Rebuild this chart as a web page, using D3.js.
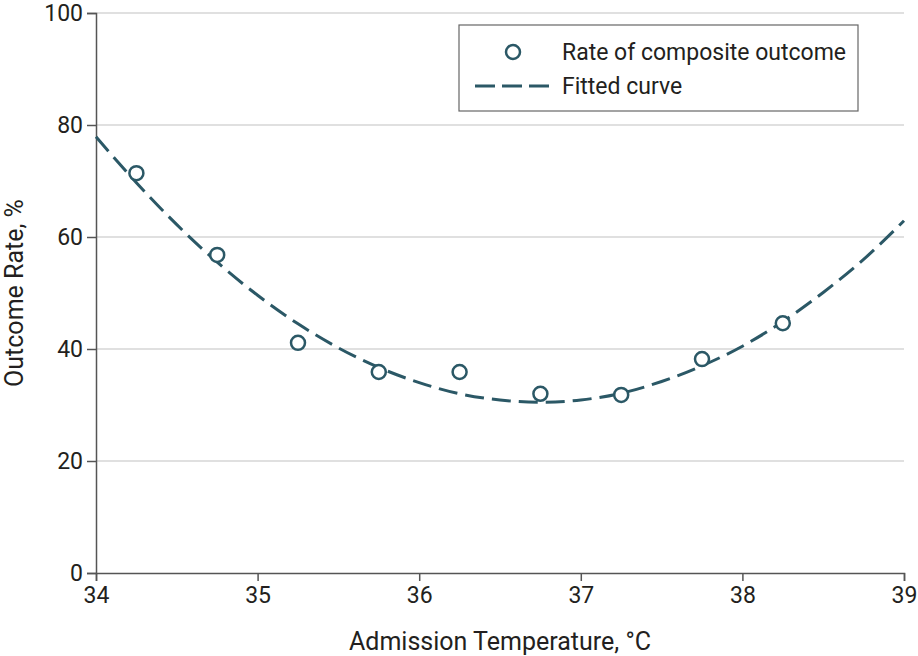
<!DOCTYPE html>
<html>
<head>
<meta charset="utf-8">
<script src="https://cdn.jsdelivr.net/npm/d3@7"></script>
<style>
  body { margin: 0; background: #fff; }
  text { font-family: "Liberation Sans Narrow", "Roboto", "Noto Sans", sans-serif; fill: #231f20; }
</style>
</head>
<body>
<div id="vis1"></div>
<script>
// chart values
const tempPoints = [34.25, 34.75, 35.25, 35.75, 36.25, 36.75, 37.25, 37.75, 38.25];
const ratePoints = [71.4, 56.8, 41.1, 35.9, 35.9, 32.0, 31.8, 38.2, 44.6];

const curveTemps = [34, 34.25, 34.5, 34.75, 35, 35.25, 35.5, 35.75, 36, 36.25, 36.5,
                    36.75, 37, 37.25, 37.5, 37.75, 38, 38.25, 38.5, 38.75, 39];
const curveRates = [77.9, 69.7, 62.2, 55.5, 49.6, 44.5, 40.2, 36.7, 34.0, 32.0, 30.9,
                    30.5, 30.9, 32.1, 34.2, 37.0, 40.5, 44.9, 50.1, 56.0, 62.9];

const xTicks = [34, 35, 36, 37, 38, 39];
const yTicks = [0, 20, 40, 60, 80, 100];

const FRAME_WIDTH = 918;
const FRAME_HEIGHT = 656;
const MARGINS = {left: 96, right: 14, top: 13, bottom: 83};
const COLOR = "#2b5866";

const svg = d3.select("#vis1")
  .append("svg")
    .attr("width", FRAME_WIDTH)
    .attr("height", FRAME_HEIGHT);

const xScale = d3.scaleLinear()
  .domain([34, 39])
  .range([MARGINS.left, FRAME_WIDTH - MARGINS.right]);

const yScale = d3.scaleLinear()
  .domain([0, 100])
  .range([FRAME_HEIGHT - MARGINS.bottom, MARGINS.top]);

// gridlines
svg.append("g")
  .selectAll("line")
  .data(yTicks.filter(d => d > 0))
  .enter()
  .append("line")
    .attr("x1", MARGINS.left)
    .attr("x2", FRAME_WIDTH - MARGINS.right)
    .attr("y1", d => yScale(d))
    .attr("y2", d => yScale(d))
    .attr("stroke", "#d6d6d6")
    .attr("stroke-width", 1.5);

// axes
const xAxis = svg.append("g")
  .attr("transform", `translate(0, ${yScale(0)})`)
  .call(d3.axisBottom(xScale).tickValues(xTicks).tickSize(8).tickPadding(6).tickFormat(d3.format("d")));

const yAxis = svg.append("g")
  .attr("transform", `translate(${MARGINS.left}, 0)`)
  .call(d3.axisLeft(yScale).tickValues(yTicks).tickSize(9).tickPadding(4));

[xAxis, yAxis].forEach(ax => {
  ax.select(".domain").attr("stroke", "#555").attr("stroke-width", 1.5);
  ax.selectAll(".tick line").attr("stroke", "#555").attr("stroke-width", 1.5);
  ax.selectAll(".tick text").attr("font-size", 23).attr("fill", "#231f20")
    .style("font-family", "\"Liberation Sans Narrow\", Roboto, sans-serif");
});

// fitted curve
const line = d3.line()
  .x((d, i) => xScale(curveTemps[i]))
  .y(d => yScale(d))
  .curve(d3.curveMonotoneX);

svg.append("path")
  .datum(curveRates)
  .attr("d", line)
  .attr("fill", "none")
  .attr("stroke", COLOR)
  .attr("stroke-width", 3)
  .attr("stroke-dasharray", "19 8");

// observed points
svg.selectAll(".pt")
  .data(ratePoints)
  .enter()
  .append("circle")
    .attr("class", "pt")
    .attr("cx", (d, i) => xScale(tempPoints[i]))
    .attr("cy", d => yScale(d))
    .attr("r", 7)
    .attr("fill", "#fff")
    .attr("stroke", COLOR)
    .attr("stroke-width", 2.5);

// axis titles
svg.append("text")
  .attr("x", (MARGINS.left + FRAME_WIDTH - MARGINS.right) / 2)
  .attr("y", 650)
  .attr("text-anchor", "middle")
  .attr("font-size", 25)
  .text("Admission Temperature, °C");

svg.append("text")
  .attr("transform", `translate(23, 293) rotate(-90)`)
  .attr("text-anchor", "middle")
  .attr("font-size", 25)
  .text("Outcome Rate, %");

// legend
const legend = svg.append("g").attr("transform", "translate(459, 25)");
legend.append("rect")
  .attr("width", 399)
  .attr("height", 86)
  .attr("fill", "#fff")
  .attr("stroke", "#666")
  .attr("stroke-width", 1.2);

legend.append("circle")
  .attr("cx", 54).attr("cy", 27).attr("r", 7)
  .attr("fill", "#fff").attr("stroke", COLOR).attr("stroke-width", 2.5);
legend.append("line")
  .attr("x1", 16).attr("x2", 90).attr("y1", 61).attr("y2", 61)
  .attr("stroke", COLOR).attr("stroke-width", 3).attr("stroke-dasharray", "20 7");

legend.append("text").attr("x", 103).attr("y", 35).attr("font-size", 23).text("Rate of composite outcome");
legend.append("text").attr("x", 103).attr("y", 69).attr("font-size", 23).text("Fitted curve");
</script>
</body>
</html>
